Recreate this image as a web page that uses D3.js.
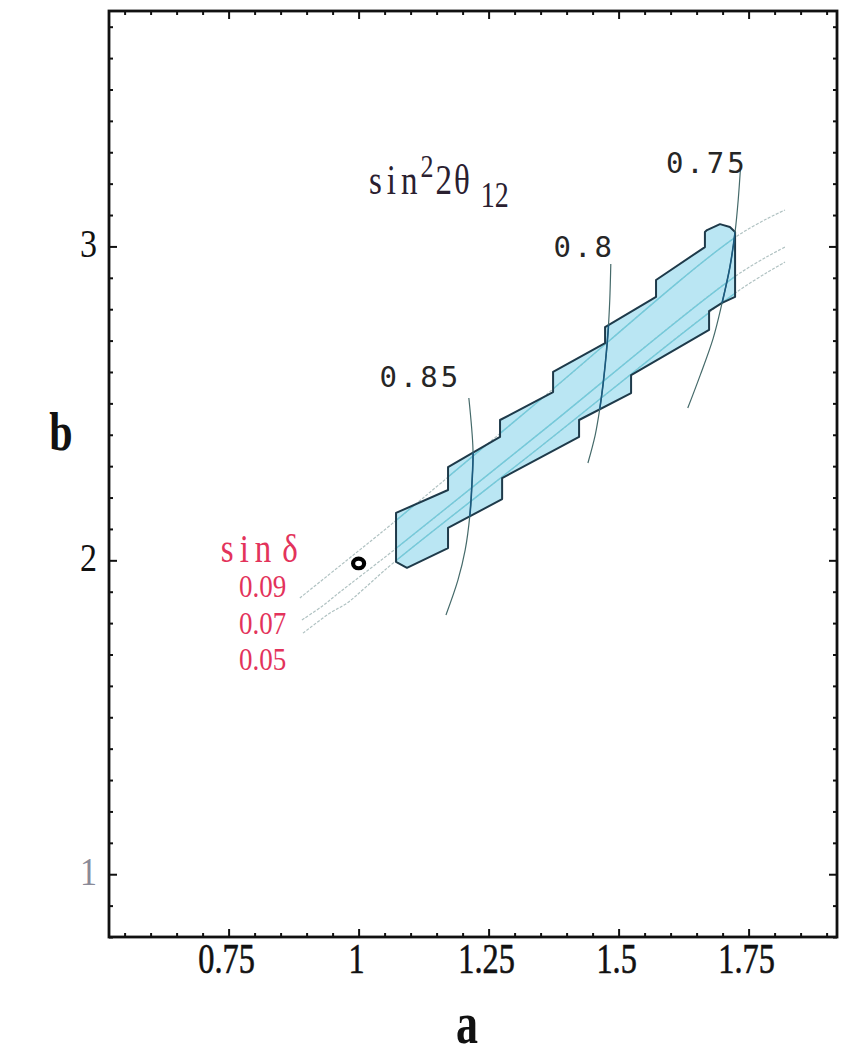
<!DOCTYPE html>
<html>
<head>
<meta charset="utf-8">
<script src="https://cdn.jsdelivr.net/npm/d3@7"></script>
<style>
  body { margin: 0; background: #fff; }
  svg { display: block; }
</style>
</head>
<body>
<svg id="chart" width="846" height="1056"></svg>
<script>
// axis ranges and ticks
var aDomain = [0.52, 1.92];
var bDomain = [0.80, 3.75];
var aMajor = [0.75, 1, 1.25, 1.5, 1.75];
var aLabels = ["0.75", "1", "1.25", "1.5", "1.75"];
var bMajor = [1, 2, 3];
var bLabels = ["1", "2", "3"];

// allowed (a, b) region, step-shaped outline
var allowedRegion = [
  [1.072, 1.995], [1.093, 1.976], [1.172, 2.039], [1.172, 2.103],
  [1.276, 2.195], [1.276, 2.262], [1.424, 2.393], [1.424, 2.447],
  [1.524, 2.533], [1.524, 2.590], [1.674, 2.734], [1.674, 2.794],
  [1.699, 2.820], [1.724, 2.839], [1.724, 3.046], [1.714, 3.062],
  [1.695, 3.071], [1.670, 3.052], [1.666, 3.046], [1.666, 2.998],
  [1.572, 2.893], [1.572, 2.839], [1.474, 2.743], [1.474, 2.692],
  [1.374, 2.600], [1.374, 2.536], [1.272, 2.447], [1.272, 2.393],
  [1.172, 2.297], [1.172, 2.224], [1.072, 2.151]
];

// sin delta contours
var sinDeltaValues = ["0.09", "0.07", "0.05"];
var sinDelta009 = [[0.887, 1.880], [0.978, 2.001], [1.064, 2.116], [1.349, 2.511], [1.728, 3.033], [1.820, 3.116]];
var sinDelta007 = [[0.891, 1.810], [0.930, 1.854], [0.964, 1.899], [1.066, 2.030], [1.349, 2.406], [1.728, 2.909], [1.820, 2.998]];
var sinDelta005 = [[0.893, 1.768], [0.945, 1.832], [0.978, 1.864], [1.012, 1.912], [1.064, 1.988], [1.349, 2.361], [1.730, 2.858], [1.820, 2.950]];

// sin^2 2theta12 contours
var theta085 = [[1.212, 2.517], [1.220, 2.351], [1.218, 2.246], [1.214, 2.144], [1.205, 2.033], [1.191, 1.937], [1.168, 1.826]];
var theta080 = [[1.485, 2.944], [1.483, 2.829], [1.480, 2.734], [1.476, 2.654], [1.470, 2.559], [1.464, 2.485], [1.455, 2.399], [1.441, 2.310]];
var theta075 = [[1.735, 3.266], [1.730, 3.148], [1.724, 3.046], [1.714, 2.934], [1.699, 2.820], [1.682, 2.708], [1.657, 2.590], [1.633, 2.485]];
var thetaLabels = ["0.85", "0.8", "0.75"];

// best fit point
var bestPoint = [1.0, 1.99];

var svg = d3.select("#chart");
var mLeft = 109, mRight = 837, mTop = 11, mBottom = 937;

var x = d3.scaleLinear().domain(aDomain).range([mLeft, mRight]);
var y = d3.scaleLinear().domain(bDomain).range([mBottom, mTop]);

var line = d3.line().x(d => x(d[0])).y(d => y(d[1]));
var lineCurve = d3.line().x(d => x(d[0])).y(d => y(d[1])).curve(d3.curveCatmullRom);

svg.append("defs").append("clipPath")
    .attr("id", "regionClip")
  .append("path")
    .attr("d", line(allowedRegion) + "Z");

// region fill
svg.append("path")
    .attr("d", line(allowedRegion) + "Z")
    .attr("fill", "#bae6f3")
    .attr("stroke", "none");

// sin delta lines (outside: faint grey, inside: cyan)
var sinLines = [sinDelta009, sinDelta007, sinDelta005];
sinLines.forEach(function(pts) {
    svg.append("path")
        .attr("d", lineCurve(pts))
        .attr("fill", "none")
        .attr("stroke", "#b0c2c2")
        .attr("stroke-width", 1.2)
        .attr("stroke-dasharray", "3,1.5");
    svg.append("path")
        .attr("d", lineCurve(pts))
        .attr("clip-path", "url(#regionClip)")
        .attr("fill", "none")
        .attr("stroke", "#74cadb")
        .attr("stroke-width", 1.4);
});

// region outline
svg.append("path")
    .attr("d", line(allowedRegion) + "Z")
    .attr("fill", "none")
    .attr("stroke", "#1e3a4a")
    .attr("stroke-width", 2)
    .attr("stroke-linejoin", "round");

// theta contours
[theta085, theta080, theta075].forEach(function(pts) {
    svg.append("path")
        .attr("d", lineCurve(pts))
        .attr("fill", "none")
        .attr("stroke", "#456a6a")
        .attr("stroke-width", 1.2);
    svg.append("path")
        .attr("d", lineCurve(pts))
        .attr("clip-path", "url(#regionClip)")
        .attr("fill", "none")
        .attr("stroke", "#1a5a80")
        .attr("stroke-width", 1.6);
});

// best fit marker
svg.append("ellipse")
    .attr("cx", x(bestPoint[0]))
    .attr("cy", y(bestPoint[1]))
    .attr("rx", 5.5)
    .attr("ry", 4.8)
    .attr("fill", "none")
    .attr("stroke", "#000")
    .attr("stroke-width", 4.2);

// contour labels
var thetaLabelPos = [[1.04, 2.552], [1.375, 2.966], [1.591, 3.234]];
thetaLabels.forEach(function(t, i) {
    svg.append("text")
        .attr("x", x(thetaLabelPos[i][0]))
        .attr("y", y(thetaLabelPos[i][1]))
        .attr("font-family", "DejaVu Sans Mono")
        .attr("font-size", 29)
        .attr("letter-spacing", 3)
        .attr("fill", "#262626")
        .text(t);
});

var title = svg.append("text")
    .attr("transform", "translate(" + x(1.02) + "," + y(3.167) + ") scale(1,1.25)")
    .attr("font-family", "Liberation Serif")
    .attr("font-size", 33)
    .attr("fill", "#2a2030");
title.append("tspan").attr("letter-spacing", 5).text("sin");
title.append("tspan").attr("dy", -14).attr("dx", -2).attr("font-size", 26).text("2");
title.append("tspan").attr("dy", 14).attr("dx", 2).attr("letter-spacing", 2).text("2\u03b8");
title.append("tspan").attr("dy", 10).attr("dx", 9).attr("font-size", 28).text("12");

// sin delta legend
var red = "#e3335b";
var legendTitle = svg.append("text")
    .attr("transform", "translate(" + x(0.735) + "," + y(1.995) + ") scale(1,1.2)")
    .attr("font-family", "Liberation Serif")
    .attr("font-size", 33)
    .attr("fill", red);
legendTitle.append("tspan").attr("letter-spacing", 6).text("sin");
legendTitle.append("tspan").attr("dx", 5).text("\u03b4");
sinDeltaValues.forEach(function(v, i) {
    svg.append("text")
        .attr("transform", "translate(" + x(0.77) + "," + y(1.883 - i * 0.1163) + ") scale(1,1.15)")
        .attr("font-family", "Liberation Serif")
        .attr("font-size", 27)
        .attr("fill", red)
        .text(v);
});

// frame ticks
function minorTicks(dom, step) {
    var out = [];
    for (var v = Math.ceil(dom[0] / step) * step; v <= dom[1] + 1e-9; v += step) {
        out.push(Math.round(v * 100) / 100);
    }
    return out;
}
var aMinor = minorTicks(aDomain, 0.05).filter(v => aMajor.indexOf(v) < 0);
var bMinor = minorTicks(bDomain, 0.1).filter(v => bMajor.indexOf(v) < 0);

function tickGroup(axis, tr) {
    var g = svg.append("g").attr("transform", tr).call(axis);
    g.select(".domain").remove();
    g.selectAll("line").attr("stroke", "#111").attr("stroke-width", 2);
    return g;
}
tickGroup(d3.axisBottom(x).tickValues(aMinor).tickSize(-4).tickFormat(""), "translate(0," + mBottom + ")");
tickGroup(d3.axisBottom(x).tickValues(aMajor).tickSize(-8).tickFormat(""), "translate(0," + mBottom + ")");
tickGroup(d3.axisTop(x).tickValues(aMinor).tickSize(-4).tickFormat(""), "translate(0," + mTop + ")");
tickGroup(d3.axisTop(x).tickValues(aMajor).tickSize(-8).tickFormat(""), "translate(0," + mTop + ")");
tickGroup(d3.axisLeft(y).tickValues(bMinor).tickSize(-4).tickFormat(""), "translate(" + mLeft + ",0)");
tickGroup(d3.axisLeft(y).tickValues(bMajor).tickSize(-8).tickFormat(""), "translate(" + mLeft + ",0)");
tickGroup(d3.axisRight(y).tickValues(bMinor).tickSize(-4).tickFormat(""), "translate(" + mRight + ",0)");
tickGroup(d3.axisRight(y).tickValues(bMajor).tickSize(-8).tickFormat(""), "translate(" + mRight + ",0)");

// frame
svg.append("rect")
    .attr("x", mLeft).attr("y", mTop)
    .attr("width", mRight - mLeft).attr("height", mBottom - mTop)
    .attr("fill", "none")
    .attr("stroke", "#111")
    .attr("stroke-width", 2.8);

// tick labels
aMajor.forEach(function(v, i) {
    svg.append("text")
        .attr("transform", "translate(" + (x(v) - 2) + "," + (mBottom + 36) + ") scale(0.95,1.22)")
        .attr("text-anchor", "middle")
        .attr("font-family", "Liberation Serif")
        .attr("font-size", 34)
        .attr("fill", "#111")
        .attr("stroke", "#111")
        .attr("stroke-width", 0.5)
        .text(aLabels[i]);
});
bMajor.forEach(function(v, i) {
    svg.append("text")
        .attr("transform", "translate(" + (mLeft - 12) + "," + (y(v) + 11) + ") scale(1,1.2)")
        .attr("text-anchor", "end")
        .attr("font-family", "Liberation Serif")
        .attr("font-size", 34)
        .attr("fill", v === 1 ? "#8a8a98" : "#111")
        .text(bLabels[i]);
});

// axis titles
svg.append("text")
    .attr("transform", "translate(467," + (mBottom + 106) + ") scale(1,1.35)")
    .attr("text-anchor", "middle")
    .attr("font-family", "Liberation Serif")
    .attr("font-weight", "bold")
    .attr("font-size", 44)
    .attr("fill", "#111")
    .text("a");
svg.append("text")
    .attr("transform", "translate(61,450) scale(1,1.3)")
    .attr("text-anchor", "middle")
    .attr("font-family", "Liberation Serif")
    .attr("font-weight", "bold")
    .attr("font-size", 42)
    .attr("fill", "#111")
    .text("b");
</script>
</body>
</html>
